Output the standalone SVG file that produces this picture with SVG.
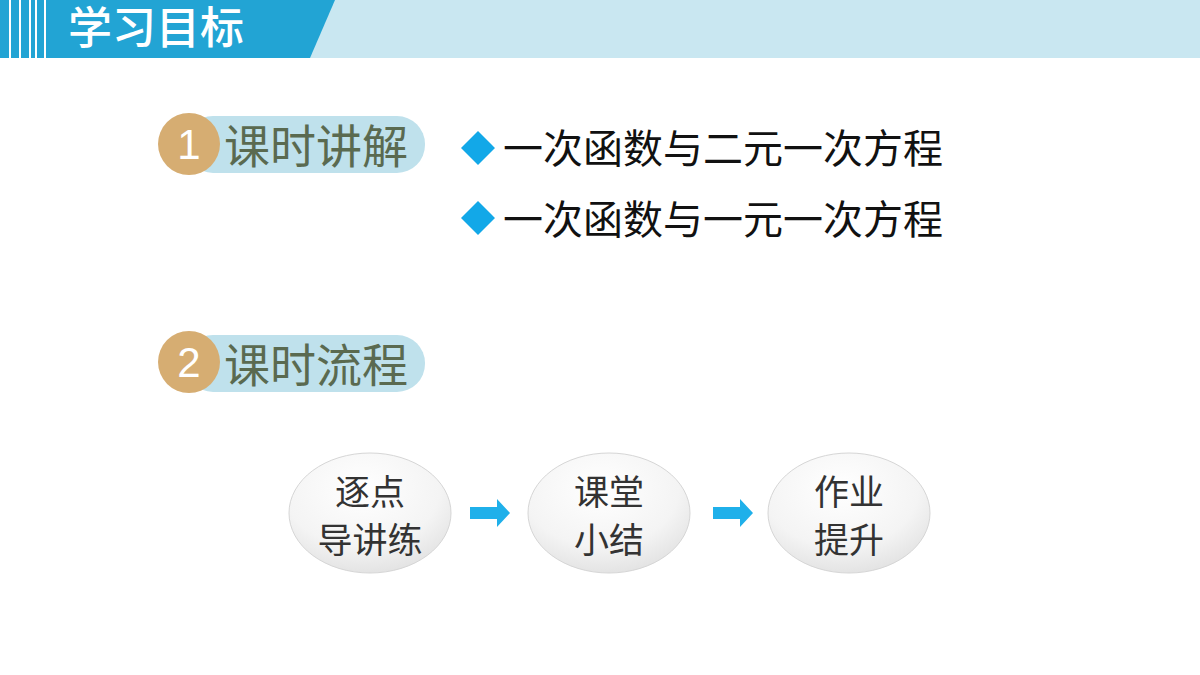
<svg xmlns="http://www.w3.org/2000/svg" width="1200" height="675" viewBox="0 0 1200 675">
<defs>
<radialGradient id="bub" cx="0.45" cy="0.3" r="0.8">
<stop offset="0" stop-color="#ffffff"/><stop offset="0.6" stop-color="#f4f4f4"/><stop offset="1" stop-color="#dcdcdc"/>
</radialGradient>
</defs>
<style>
.cjk{font-family:"Noto Sans CJK SC","Liberation Sans",sans-serif}
.h{font-size:46px;fill:#5a6a50}
.b{font-size:40px;fill:#111}
.n{font-size:35px;fill:#333;text-anchor:middle}
.num{font-family:"Liberation Sans",sans-serif;font-size:42px;fill:#fff;text-anchor:middle}
</style>
<rect width="1200" height="675" fill="#fff"/>
<g id="header">
<rect x="0" y="0" width="1200" height="58" fill="#c9e7f1"/>
<polygon points="0,0 335,0 310,58 0,58" fill="#22a4d4"/>
<g stroke="#fff" stroke-width="2"><line x1="10" y1="0" x2="10" y2="58"/><line x1="20" y1="0" x2="20" y2="58"/><line x1="30" y1="0" x2="30" y2="58"/><line x1="36" y1="0" x2="36" y2="58"/><line x1="45" y1="0" x2="45" y2="58"/></g>
<text x="68" y="44" class="cjk" font-size="44" fill="#fff" font-weight="500">学习目标</text>
</g>
<g id="sec1">
<rect x="185" y="116" width="240" height="57" rx="28" fill="#bfe1ec"/>
<circle cx="189" cy="144" r="31" fill="#d6ad72"/>
<text x="189" y="159" class="num">1</text>
<text x="224" y="163" class="cjk h">课时讲解</text>
</g>
<g id="items">
<rect x="466" y="136" width="24" height="24" fill="#12a8e8" transform="rotate(45 478 148)"/>
<text x="503" y="163" class="cjk b">一次函数与二元一次方程</text>
<rect x="466" y="206" width="24" height="24" fill="#12a8e8" transform="rotate(45 478 218)"/>
<text x="503" y="234" class="cjk b">一次函数与一元一次方程</text>
</g>
<g id="sec2">
<rect x="185" y="335" width="240" height="57" rx="28" fill="#bfe1ec"/>
<circle cx="189" cy="362" r="31" fill="#d6ad72"/>
<text x="189" y="377" class="num">2</text>
<text x="224" y="382" class="cjk h">课时流程</text>
</g>
<g id="n1"><ellipse cx="370" cy="513" rx="81" ry="60" fill="url(#bub)" stroke="#d6d6d6"/>
<text x="370" y="505" class="cjk n">逐点</text><text x="370" y="553" class="cjk n">导讲练</text></g>
<g id="n2"><ellipse cx="609" cy="513" rx="81" ry="60" fill="url(#bub)" stroke="#d6d6d6"/>
<text x="609" y="505" class="cjk n">课堂</text><text x="609" y="553" class="cjk n">小结</text></g>
<g id="n3"><ellipse cx="849" cy="513" rx="81" ry="60" fill="url(#bub)" stroke="#d6d6d6"/>
<text x="849" y="505" class="cjk n">作业</text><text x="849" y="553" class="cjk n">提升</text></g>
<g id="connectors" fill="#1fb0ea">
<polygon points="470,507 497,507 497,499 510,513 497,527 497,519 470,519"/>
<polygon points="713,507 740,507 740,499 753,513 740,527 740,519 713,519"/>
</g>
</svg>
